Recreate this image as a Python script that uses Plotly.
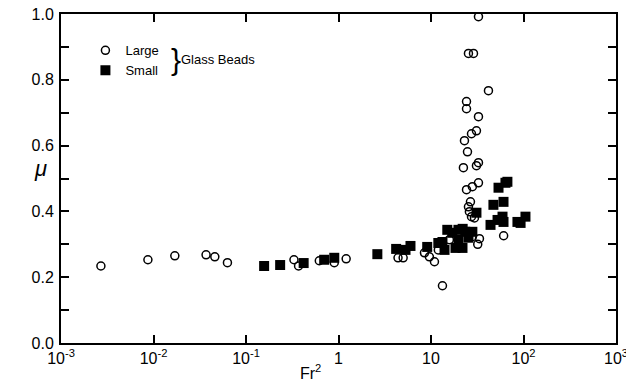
import plotly.graph_objects as go

# Large glass beads (open circles)
large_fr2 = [0.0027, 0.0087, 0.017, 0.037, 0.046, 0.063, 0.33, 0.37, 0.62, 0.90, 1.21,
             4.4, 5.0, 8.5, 9.6, 10.9, 12.0, 13.3, 15.8, 28, 32, 33.4, 61,
             24.2, 28, 32.6, 26.7, 25.4, 26, 27.4, 29.5,
             32.6, 25.4, 28.8, 41.8, 24.2, 24.2, 32.6, 31, 27.4, 23, 24.8, 22.4, 31, 32.6]
large_mu = [0.234, 0.253, 0.265, 0.268, 0.262, 0.244, 0.253, 0.234, 0.250, 0.244, 0.256,
            0.259, 0.259, 0.274, 0.262, 0.247, 0.283, 0.174, 0.314, 0.323, 0.300, 0.317, 0.326,
            0.466, 0.475, 0.487, 0.429, 0.414, 0.399, 0.384, 0.380,
            0.992, 0.880, 0.880, 0.767, 0.734, 0.712, 0.688, 0.645, 0.636, 0.615, 0.581, 0.533, 0.539, 0.548]

# Small glass beads (filled squares)
small_fr2 = [0.157, 0.234, 0.42, 0.70, 0.90, 2.63, 4.2, 5.3, 6.0, 9.1, 12, 14, 13.3,
             17, 19.8, 23.5, 28, 18.4, 21.9, 15, 31, 53.7, 63.8, 47.3, 60.8, 44, 52.4,
             59.3, 60.8, 86, 105, 93, 67, 19.8, 25.4, 22]
small_mu = [0.234, 0.237, 0.243, 0.253, 0.259, 0.270, 0.286, 0.283, 0.295, 0.292, 0.304, 0.283, 0.307,
            0.335, 0.344, 0.338, 0.338, 0.289, 0.289, 0.344, 0.396, 0.472, 0.487, 0.420, 0.429, 0.359, 0.374,
            0.384, 0.368, 0.368, 0.384, 0.365, 0.490, 0.314, 0.320, 0.347]

x_tickvals = [1e-3, 1e-2, 1e-1, 1, 10, 100, 1000]
x_ticktext = ["10<sup>-3</sup>", "10<sup>-2</sup>", "10<sup>-1</sup>", "1", "10",
              "10<sup>2</sup>", "10<sup>3</sup>"]
y_tickvals = [0.0, 0.2, 0.4, 0.6, 0.8, 1.0]
y_ticktext = ["0.0", "0.2", "0.4", "0.6", "0.8", "1.0"]

FONT = "Liberation Sans, Arial, sans-serif"

fig = go.Figure()
fig.add_trace(go.Scatter(
    x=large_fr2, y=large_mu, mode="markers", name="Large",
    marker=dict(symbol="circle-open", size=8, color="black", line=dict(width=1.5, color="black")),
))
fig.add_trace(go.Scatter(
    x=small_fr2, y=small_mu, mode="markers", name="Small",
    marker=dict(symbol="square", size=10, color="black", line=dict(width=0)),
))

axis_common = dict(
    showline=True, linecolor="black", linewidth=2, mirror="ticks",
    ticks="inside", ticklen=8, tickwidth=1.5, tickcolor="black",
    showgrid=False, zeroline=False, automargin=False, ticklabeloverflow="allow",
    tickfont=dict(family=FONT, size=16, color="black"),
)

fig.update_xaxes(type="log", range=[-3, 3], tickvals=x_tickvals, ticktext=x_ticktext, **axis_common)
fig.update_yaxes(range=[0, 1.0], tickvals=y_tickvals, ticktext=y_ticktext, ticklabelstandoff=2,
                 minor=dict(ticks="inside", dtick=0.1, ticklen=8, tickwidth=1.5, tickcolor="black", showgrid=False),
                 **axis_common)

# axis titles as annotations (upright mu, Fr^2 below axis)
fig.add_annotation(x=-0.022, y=0.53, xref="paper", yref="paper", text="<i>μ</i>",
                   showarrow=False, font=dict(family=FONT, size=22, color="black"),
                   xanchor="right", yanchor="middle")
fig.add_annotation(x=0.45, y=-0.088, xref="paper", yref="paper", text="Fr<sup>2</sup>",
                   showarrow=False, font=dict(family=FONT, size=16, color="black"),
                   xanchor="center", yanchor="middle")

# legend group label
fig.add_annotation(x=0.194, y=0.862, xref="paper", yref="paper", text="}",
                   showarrow=False, font=dict(family=FONT, size=30, color="black"),
                   xanchor="left", yanchor="middle")
fig.add_annotation(x=0.212, y=0.862, xref="paper", yref="paper", text="Glass Beads",
                   showarrow=False, font=dict(family=FONT, size=13, color="black"),
                   xanchor="left", yanchor="middle")

fig.update_layout(
    width=626, height=383,
    margin=dict(l=61, r=10, t=14, b=40),
    paper_bgcolor="white", plot_bgcolor="white",
    showlegend=True,
    legend=dict(x=0.044, y=0.935, xanchor="left", yanchor="top",
                font=dict(family=FONT, size=13, color="black"),
                bgcolor="rgba(0,0,0,0)", tracegroupgap=0, itemwidth=30),
)

fig.write_html("out.html", config={"displayModeBar": False},
               post_script="document.body.style.margin='0px';document.body.style.overflow='hidden';")
